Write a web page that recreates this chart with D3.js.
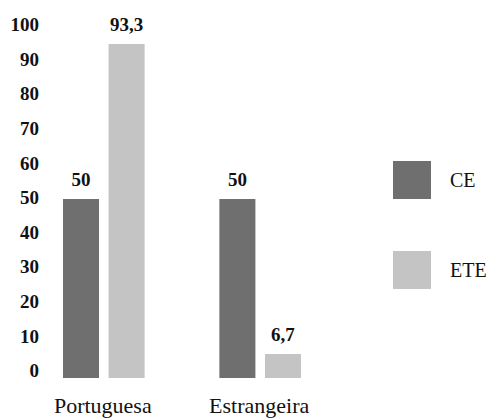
<!DOCTYPE html>
<html>
<head>
<meta charset="utf-8">
<script src="https://cdn.jsdelivr.net/npm/d3@7"></script>
<style>
  body { margin: 0; background: #fff; }
  text { font-family: "Liberation Serif", "DejaVu Serif", serif; fill: #111; }
</style>
</head>
<body>
<div id="chart"></div>
<script>
var WIDTH = 492, HEIGHT = 418;

// data
var categories = ['Portuguesa', 'Estrangeira'];
var series = ['CE', 'ETE'];
var ceValues = [50, 50];
var eteValues = [93.3, 6.7];
var yTicks = [0, 10, 20, 30, 40, 50, 60, 70, 80, 90, 100];

var colors = { CE: '#6f6f6f', ETE: '#c4c4c4' };

var svg = d3.select('#chart')
    .append('svg')
    .attr('width', WIDTH)
    .attr('height', HEIGHT);

// bar scale
var y = d3.scaleLinear().domain([0, 100]).range([378, 20]);
// tick labels sit a little off the bar scale in the original
var yLabels = y.copy().range([370, 24]);

var x0 = d3.scaleBand()
    .domain(categories)
    .range([63, 301])
    .paddingInner(0.478)
    .paddingOuter(0);

var x1 = d3.scaleBand()
    .domain(series)
    .range([0, x0.bandwidth()])
    .paddingInner(0.21);

//build rows for the bars
var rows = [];
categories.forEach(function(c, i) {
    rows.push({cat: c, key: 'CE', value: ceValues[i]});
    rows.push({cat: c, key: 'ETE', value: eteValues[i]});
});

//y axis, labels only
var yAxis = d3.axisLeft(yLabels)
    .tickValues(yTicks)
    .tickSize(0)
    .tickPadding(0)
    .tickFormat(d3.format('d'));

var axisGroup = svg.append('g')
    .attr('transform', 'translate(39,0)')
    .call(yAxis);
axisGroup.select('.domain').remove();
axisGroup.selectAll('text')
    .attr('dy', '0.35em')
    .style('font-family', '"Liberation Serif", serif')
    .style('font-size', '19px')
    .style('font-weight', 'bold')
    .attr('fill', '#111');

//bars
svg.append('g').selectAll('rect')
    .data(rows)
    .enter()
    .append('rect')
    .attr('x', function(d) { return x0(d.cat) + x1(d.key); })
    .attr('y', function(d) { return y(d.value); })
    .attr('width', x1.bandwidth())
    .attr('height', function(d) { return y(0) - y(d.value); })
    .attr('fill', function(d) { return colors[d.key]; });

//value labels
var fmt = function(v) { return (v % 1 === 0 ? String(v) : v.toFixed(1)).replace('.', ','); };
svg.append('g').selectAll('text')
    .data(rows)
    .enter()
    .append('text')
    .attr('x', function(d) { return x0(d.cat) + x1(d.key) + x1.bandwidth() / 2; })
    .attr('y', function(d) { return y(d.value) - 13; })
    .attr('text-anchor', 'middle')
    .style('font-size', '19px')
    .style('font-weight', 'bold')
    .text(function(d) { return fmt(d.value); });

//category labels
svg.append('g').selectAll('text')
    .data(categories)
    .enter()
    .append('text')
    .attr('x', function(d) { return x0(d) + x0.bandwidth() / 2 - 1; })
    .attr('y', 413)
    .attr('text-anchor', 'middle')
    .style('font-size', '22px')
    .text(function(d) { return d; });

//legend
var legend = svg.append('g').attr('transform', 'translate(393,161)');
var legendItem = legend.selectAll('g')
    .data(series)
    .enter()
    .append('g')
    .attr('transform', function(d, i) { return 'translate(0,' + (i * 90) + ')'; });
legendItem.append('rect')
    .attr('width', 38)
    .attr('height', 38)
    .attr('fill', function(d) { return colors[d]; });
legendItem.append('text')
    .attr('x', 57)
    .attr('y', 19)
    .attr('dy', '0.35em')
    .style('font-size', '20px')
    .text(function(d) { return d; });
</script>
</body>
</html>
